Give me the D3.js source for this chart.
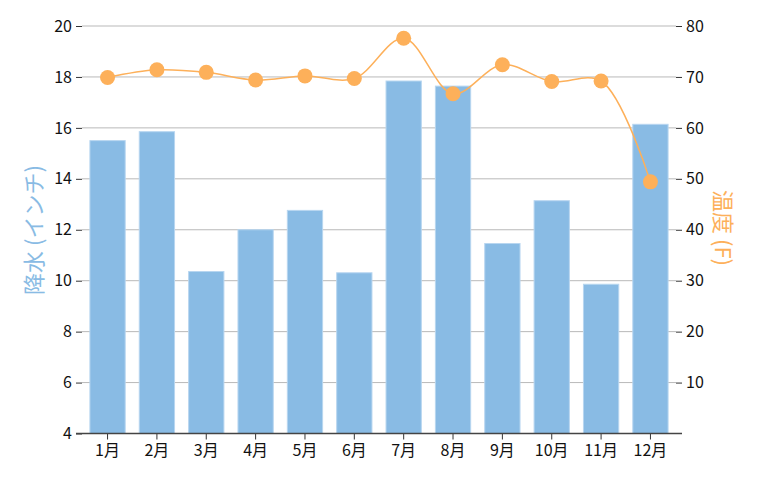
<!DOCTYPE html>
<html>
<head>
<meta charset="utf-8">
<script src="https://cdn.jsdelivr.net/npm/d3@7"></script>
<style>
  body { margin: 0; background: #fff; }
  text { font-family: "Noto Sans CJK JP", "Noto Sans", sans-serif; }
</style>
</head>
<body>
<svg id="chart" width="759" height="483"></svg>
<script>
// data
var months = ["1月", "2月", "3月", "4月", "5月", "6月", "7月", "8月", "9月", "10月", "11月", "12月"];
var rainfall = [15.5, 15.85, 10.36, 12.0, 12.76, 10.31, 17.84, 17.64, 11.46, 13.14, 9.86, 16.14];
var temperature = [69.9, 71.4, 70.9, 69.4, 70.2, 69.7, 77.6, 66.7, 72.4, 69.1, 69.2, 49.4];
var rainTicks = [4, 6, 8, 10, 12, 14, 16, 18, 20];
var tempTicks = [10, 20, 30, 40, 50, 60, 70, 80];

var svg = d3.select("#chart");
// plot area (note: "top" is taken by window.top)
var plotLeft = 82, plotRight = 676, plotTop = 26, plotBottom = 433.5;

var x = d3.scaleBand()
  .domain(months)
  .range([plotLeft + 1, plotRight - 1])
  .paddingInner(0.285)
  .paddingOuter(0.14);

var yRain = d3.scaleLinear().domain([4, 20]).range([plotBottom, plotTop]);
var yTemp = d3.scaleLinear().domain([0, 80]).range([plotBottom, plotTop]);

// grid lines
svg.append("g")
  .selectAll("line")
  .data(rainTicks.slice(1))
  .enter()
  .append("line")
  .attr("x1", plotLeft)
  .attr("x2", plotRight)
  .attr("y1", function(d) { return yRain(d); })
  .attr("y2", function(d) { return yRain(d); })
  .attr("stroke", "#b9b9b9")
  .attr("stroke-width", 1);

// bars
svg.append("g")
  .selectAll("rect")
  .data(rainfall)
  .enter()
  .append("rect")
  .attr("x", function(d, i) { return x(months[i]); })
  .attr("y", function(d) { return yRain(d); })
  .attr("width", x.bandwidth())
  .attr("height", function(d) { return plotBottom - yRain(d); })
  .attr("fill", "#89bbe4")
  .attr("stroke", "#b8d6f0")
  .attr("stroke-width", 1);

// left axis
var gl = svg.append("g")
  .attr("transform", "translate(" + plotLeft + ",0)")
  .call(d3.axisLeft(yRain).tickValues(rainTicks).tickSize(6).tickPadding(4));

// right axis
var gr = svg.append("g")
  .attr("transform", "translate(" + plotRight + ",0)")
  .call(d3.axisRight(yTemp).tickValues(tempTicks).tickSize(6).tickPadding(4));

// bottom axis
var gb = svg.append("g")
  .attr("transform", "translate(0," + plotBottom + ")")
  .call(d3.axisBottom(x).tickSize(6).tickPadding(5));

[gl, gr, gb].forEach(function(g) {
  g.select(".domain").remove();
  g.selectAll("text").attr("font-size", 16).attr("fill", "#111");
  g.selectAll(".tick line").attr("stroke", "#333");
});

svg.append("line")
  .attr("x1", plotLeft - 6)
  .attr("x2", plotRight + 6)
  .attr("y1", plotBottom)
  .attr("y2", plotBottom)
  .attr("stroke", "#444")
  .attr("stroke-width", 1.5);

// temperature line
var line = d3.line()
  .x(function(d, i) { return x(months[i]) + x.bandwidth() / 2; })
  .y(function(d) { return yTemp(d); })
  .curve(d3.curveCatmullRom);

svg.append("path")
  .datum(temperature)
  .attr("d", line)
  .attr("fill", "none")
  .attr("stroke", "#fdb05a")
  .attr("stroke-width", 1.5);

svg.append("g")
  .selectAll("circle")
  .data(temperature)
  .enter()
  .append("circle")
  .attr("cx", function(d, i) { return x(months[i]) + x.bandwidth() / 2; })
  .attr("cy", function(d) { return yTemp(d); })
  .attr("r", 7.5)
  .attr("fill", "#fdb05a");

// axis titles
svg.append("text")
  .attr("transform", "translate(32,230) rotate(-90)")
  .attr("text-anchor", "middle")
  .attr("dominant-baseline", "central")
  .attr("font-size", 22)
  .attr("fill", "#89bbe4")
  .text("降水 (インチ)");

svg.append("text")
  .attr("transform", "translate(725,228) rotate(90)")
  .attr("text-anchor", "middle")
  .attr("dominant-baseline", "central")
  .attr("font-size", 22)
  .attr("fill", "#fdb05a")
  .text("温度 (F)");
</script>
</body>
</html>
